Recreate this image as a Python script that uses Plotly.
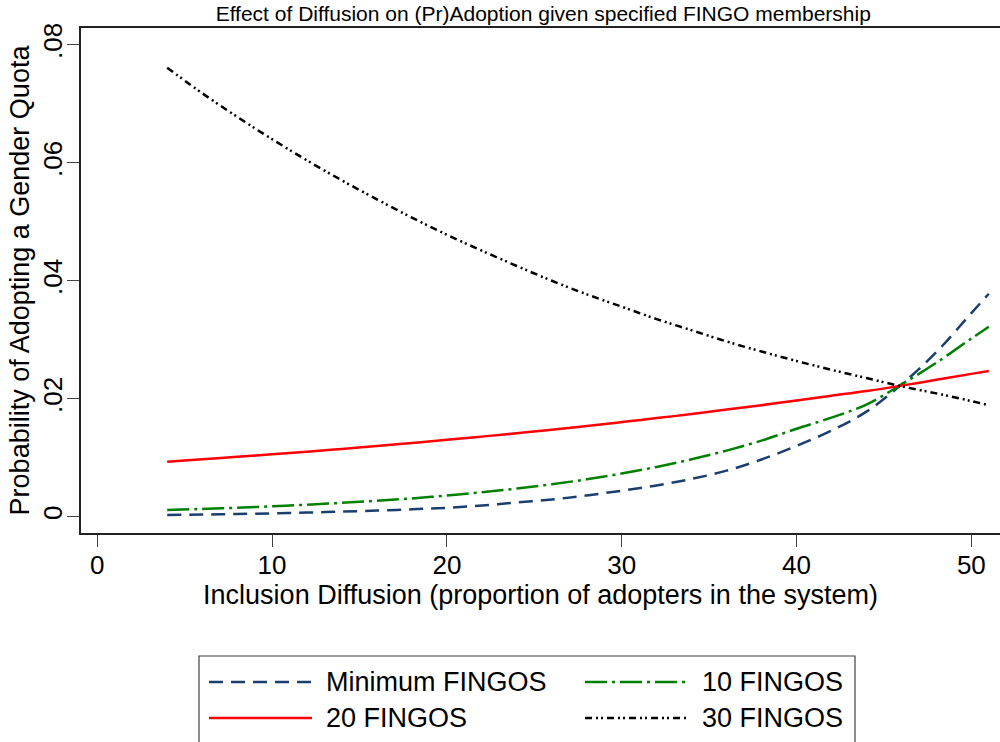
import plotly.graph_objects as go

# ---------------- data ----------------
diffusion = [4, 6, 8, 10, 12, 14, 16, 18, 20, 22, 24, 26, 28, 30, 32, 34, 36, 38, 40, 42, 44, 46, 48, 50, 51]

fingo_min = [0.0003, 0.00036, 0.00045, 0.00056, 0.0007, 0.00085, 0.00103, 0.00125, 0.0015, 0.0019,
             0.0024, 0.0029, 0.0036, 0.0044, 0.0053, 0.0064, 0.0078, 0.0097, 0.0120, 0.0146,
             0.0178, 0.0224, 0.0279, 0.0345, 0.0378]
fingo_10 = [0.00114, 0.00132, 0.00152, 0.00175, 0.00203, 0.00234, 0.0027, 0.0031, 0.00358, 0.00413,
            0.00476, 0.00549, 0.00633, 0.00731, 0.00843, 0.00972, 0.0112, 0.0129, 0.0149, 0.0168,
            0.0190, 0.0224, 0.0261, 0.0302, 0.0322]
fingo_20 = [0.00933, 0.00973, 0.01014, 0.01057, 0.01101, 0.01148, 0.01198, 0.01249, 0.01302, 0.01357,
            0.01414, 0.01475, 0.01537, 0.01603, 0.01671, 0.01739, 0.01815, 0.0189, 0.01969, 0.02050,
            0.02130, 0.02222, 0.0232, 0.02421, 0.0247]
fingo_30 = [0.0761, 0.0718, 0.0678, 0.0640, 0.0604, 0.0570, 0.0538, 0.0507, 0.0478, 0.0451,
            0.0425, 0.0400, 0.0377, 0.0356, 0.0335, 0.0316, 0.0297, 0.0280, 0.0264, 0.0249,
            0.0235, 0.0221, 0.0209, 0.0196, 0.0189]

series_names = ["Minimum FINGOS", "10 FINGOS", "20 FINGOS", "30 FINGOS"]
series_values = [fingo_min, fingo_10, fingo_20, fingo_30]
series_colors = ["#1a3f6f", "#008000", "#ff0000", "#000000"]
series_dash = ["14px,8px", "22px,5px,3px,5px", "solid", "7px,4px,2px,3px,2px,4px"]

x_tick_vals = [0, 10, 20, 30, 40, 50]
x_tick_text = ["0", "10", "20", "30", "40", "50"]
y_tick_vals = [0, 0.02, 0.04, 0.06, 0.08]
y_tick_text = ["0", ".02", ".04", ".06", ".08"]

title_text = "Effect of Diffusion on (Pr)Adoption given specified FINGO membership"
x_title = "Inclusion Diffusion (proportion of adopters in the system)"
y_title = "Probability of Adopting a Gender Quota"

# ---------------- layout geometry ----------------
W, H = 1000, 742
PL, PR, PT, PB = 81, 1000, 28, 533
FONT = "Liberation Sans, Arial, Helvetica, sans-serif"


def px_x(p):
    return (p - PL) / (PR - PL)


def px_y(p):
    return (PB - p) / (PB - PT)


fig = go.Figure()
for name, vals, col, dash in zip(series_names, series_values, series_colors, series_dash):
    fig.add_trace(go.Scatter(
        x=diffusion, y=vals, mode="lines", name=name,
        line=dict(color=col, width=2.5, dash=dash, shape="spline"),
        showlegend=False, hoverinfo="x+y+name",
    ))

# ---------------- manual legend (Stata style) ----------------
shapes = [dict(type="rect", xref="paper", yref="paper",
               x0=px_x(199), x1=px_x(855), y0=px_y(656), y1=px_y(746),
               line=dict(color="#404040", width=1.2), fillcolor="white", layer="below")]
annotations = []
leg_pos = {  # row-major, 2 columns
    "Minimum FINGOS": (209, 312, 324, 682),
    "10 FINGOS": (585, 687, 700, 682),
    "20 FINGOS": (209, 312, 324, 718),
    "30 FINGOS": (585, 687, 700, 718),
}
for name, col, dash in zip(series_names, series_colors, series_dash):
    x0, x1, xt, yy = leg_pos[name]
    shapes.append(dict(type="line", xref="paper", yref="paper",
                       x0=px_x(x0), x1=px_x(x1), y0=px_y(yy), y1=px_y(yy),
                       line=dict(color=col, width=2.5, dash=dash)))
    annotations.append(dict(xref="paper", yref="paper", x=px_x(xt), y=px_y(yy),
                            text=name, showarrow=False, xanchor="left", yanchor="middle",
                            font=dict(size=27, color="black", family=FONT)))

fig.update_layout(
    width=W, height=H,
    margin=dict(l=PL, r=W - PR, t=PT, b=H - PB, pad=0),
    paper_bgcolor="white", plot_bgcolor="white",
    font=dict(family=FONT, color="black"),
    title=dict(text=title_text, x=0.503, xref="paper", xanchor="center",
               y=1 - 14 / H, yref="container", yanchor="middle",
               font=dict(size=21, color="black", family=FONT)),
    shapes=shapes, annotations=annotations,
    xaxis=dict(range=[-0.93, 51.64], tickvals=x_tick_vals, ticktext=x_tick_text,
               showgrid=False, zeroline=False, showline=True, linecolor="#222222", linewidth=1.6,
               mirror=True, ticks="outside", ticklen=12, tickwidth=1.3, tickcolor="#444444",
               ticklabelstandoff=-4,
               tickfont=dict(size=26, family=FONT, color="black"),
               title=dict(text=x_title, standoff=0, font=dict(size=27, family=FONT, color="black"))),
    yaxis=dict(range=[-0.00277, 0.08285], tickvals=y_tick_vals, ticktext=y_tick_text,
               showgrid=False, zeroline=False, showline=True, linecolor="#222222", linewidth=1.6,
               ticks="outside", ticklen=12, tickwidth=1.3, tickcolor="#444444", tickangle=-90,
               ticklabelstandoff=-5,
               tickfont=dict(size=26, family=FONT, color="black"),
               title=dict(text=y_title, standoff=0, font=dict(size=27, family=FONT, color="black"))),
)

fig.write_html("out.html")
